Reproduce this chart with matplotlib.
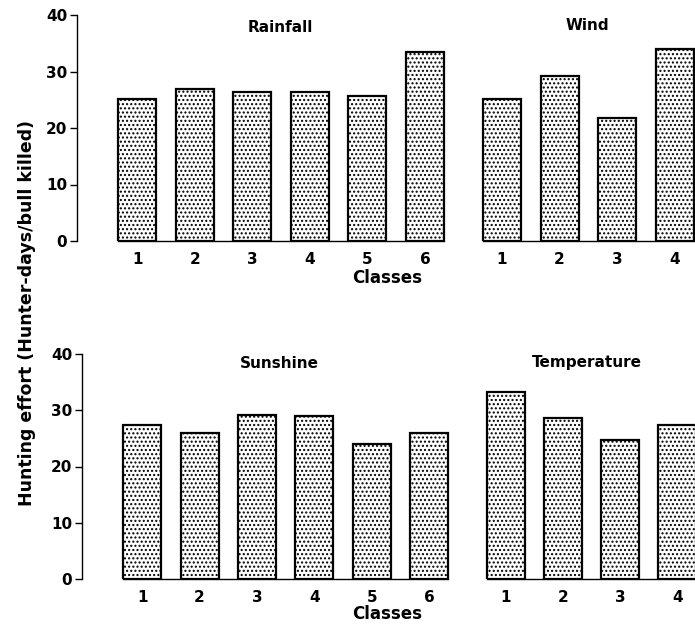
import matplotlib
matplotlib.use('Agg')
import matplotlib.pyplot as plt

plt.rcParams['font.family'] = ['DejaVu Sans']
plt.rcParams['font.weight'] = 'bold'
plt.rcParams['hatch.linewidth'] = 1.0

rain_classes = ['1', '2', '3', '4', '5', '6']
rainfall = [25.1, 26.9, 26.4, 26.4, 25.7, 33.5]
wind_classes = ['1', '2', '3', '4']
wind = [25.1, 29.2, 21.8, 34.0]
sun_classes = ['1', '2', '3', '4', '5', '6']
sunshine = [27.4, 26.0, 29.1, 28.9, 24.0, 26.0]
temp_classes = ['1', '2', '3', '4']
temperature = [33.2, 28.6, 24.7, 27.3]

W, H = 695, 627
fig = plt.figure(figsize=(W / 100, H / 100), dpi=100)


def px_axes(x0, x1, y_top, y_bot):
    return fig.add_axes([x0 / W, 1 - y_bot / H, (x1 - x0) / W, (y_bot - y_top) / H])


def panel(ax, labels, values, show_y, xlim):
    x = list(range(1, len(values) + 1))
    ax.bar(x, values, width=0.66, color='white', edgecolor='black',
           linewidth=1.6, hatch='....')
    ax.set_xlim(*xlim)
    ax.set_ylim(0, 40)
    ax.set_xticks(x)
    ax.set_xticklabels(labels, fontsize=11, fontweight='bold')
    ax.tick_params(axis='x', length=0, pad=8)
    ax.spines['top'].set_visible(False)
    ax.spines['right'].set_visible(False)
    ax.spines['bottom'].set_bounds(x[0] - 0.33, x[-1] + 0.33)
    ax.spines['bottom'].set_linewidth(1.0)
    if show_y:
        ax.set_yticks([0, 10, 20, 30, 40])
        ax.set_yticklabels(['0', '10', '20', '30', '40'], fontsize=11, fontweight='bold')
        ax.tick_params(axis='y', length=5, width=1, pad=2)
        ax.spines['left'].set_linewidth(1.0)
    else:
        ax.spines['left'].set_visible(False)
        ax.set_yticks([])


ax1 = px_axes(77, 448, 15, 241)
panel(ax1, rain_classes, rainfall, True, (-0.05, 6.4))
ax2 = px_axes(476, 695, 15, 241)
panel(ax2, wind_classes, wind, False, (0.55, 4.35))
ax3 = px_axes(82, 452, 354, 579)
panel(ax3, sun_classes, sunshine, True, (-0.05, 6.4))
ax4 = px_axes(480, 695, 354, 579)
panel(ax4, temp_classes, temperature, False, (0.55, 4.31))

titles = [('Rainfall', 280, 27), ('Wind', 587, 25),
          ('Sunshine', 279, 364), ('Temperature', 587, 362)]
for text, tx, ty in titles:
    fig.text(tx / W, 1 - ty / H, text, fontsize=11, fontweight='bold',
             ha='center', va='center')

fig.text(387 / W, 1 - 278 / H, 'Classes', fontsize=12, fontweight='bold',
         ha='center', va='center')
fig.text(387 / W, 1 - 614 / H, 'Classes', fontsize=12, fontweight='bold',
         ha='center', va='center')
fig.text(27 / W, 1 - 313 / H, 'Hunting effort (Hunter-days/bull killed)',
         fontsize=12.5, fontweight='bold', rotation=90, ha='center', va='center')

fig.savefig('out.png', dpi=100)
